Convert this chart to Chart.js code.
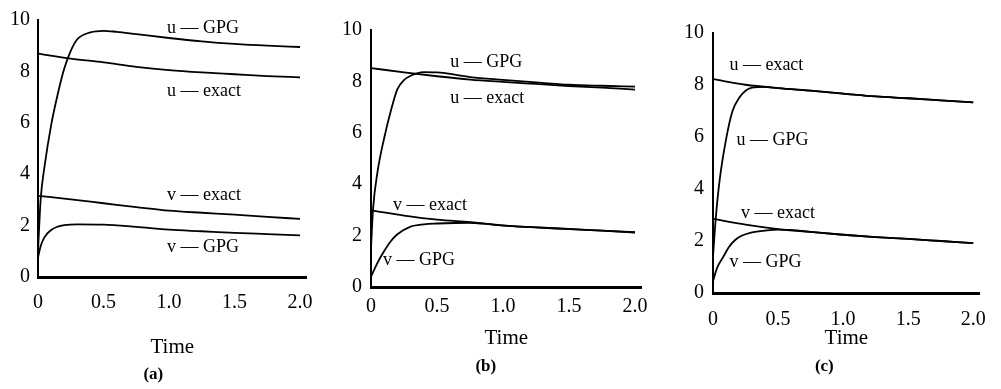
<!DOCTYPE html>
<html>
<head>
<meta charset="utf-8">
<script src="https://cdn.jsdelivr.net/npm/chart.js@4/dist/chart.umd.min.js"></script>
<style>
  body { margin: 0; background: #fff; }
  #wrap { position: relative; width: 1001px; height: 389px; overflow: hidden; }
  canvas { position: absolute; top: 0; }
</style>
</head>
<body>
<div id="wrap">
  <canvas id="panelA" width="330" height="389" style="left:0px"></canvas>
  <canvas id="panelB" width="330" height="389" style="left:330px"></canvas>
  <canvas id="panelC" width="341" height="389" style="left:660px"></canvas>
</div>
<script>
// axis ticks
const timeTicks = [0, 0.5, 1.0, 1.5, 2.0];
const valueTicks = [0, 2, 4, 6, 8, 10];

// panel (a)
const aUGpgT = [0, 0.02, 0.05, 0.1, 0.15, 0.2, 0.25, 0.3, 0.4, 0.5, 0.6, 0.75, 1.0, 1.25, 1.5, 1.75, 2.0];
const aUGpg = [1.0, 3.0, 4.3, 5.9, 7.1, 8.1, 8.8, 9.25, 9.52, 9.58, 9.54, 9.45, 9.3, 9.17, 9.07, 9.0, 8.95];
const aUExactT = [0, 0.25, 0.5, 0.75, 1.0, 1.25, 1.5, 1.75, 2.0];
const aUExact = [8.69, 8.5, 8.35, 8.18, 8.05, 7.96, 7.89, 7.82, 7.77];
const aVExactT = [0, 0.25, 0.5, 0.75, 1.0, 1.25, 1.5, 1.75, 2.0];
const aVExact = [3.16, 3.02, 2.87, 2.72, 2.58, 2.5, 2.43, 2.34, 2.26];
const aVGpgT = [0, 0.02, 0.05, 0.1, 0.15, 0.2, 0.3, 0.5, 0.75, 1.0, 1.25, 1.5, 1.75, 2.0];
const aVGpg = [0.75, 1.2, 1.55, 1.83, 1.96, 2.02, 2.05, 2.04, 1.95, 1.84, 1.78, 1.72, 1.67, 1.62];

// panel (b)
const bUGpgT = [0, 0.015, 0.05, 0.1, 0.15, 0.2, 0.25, 0.3, 0.4, 0.5, 0.75, 1.0, 1.25, 1.5, 1.75, 2.0];
const bUGpg = [1.5, 3.0, 4.5, 5.8, 6.85, 7.7, 8.05, 8.22, 8.36, 8.35, 8.17, 8.06, 7.96, 7.87, 7.83, 7.8];
const bUExactT = [0, 0.25, 0.5, 0.75, 1.0, 1.25, 1.5, 1.75, 2.0];
const bUExact = [8.52, 8.35, 8.2, 8.07, 7.98, 7.9, 7.82, 7.76, 7.68];
const bVExactT = [0, 0.25, 0.5, 0.75, 1.0, 1.25, 1.5, 1.75, 2.0];
const bVExact = [2.98, 2.78, 2.62, 2.52, 2.4, 2.32, 2.26, 2.19, 2.13];
const bVGpgT = [0, 0.05, 0.1, 0.15, 0.2, 0.3, 0.4, 0.5, 0.75, 1.0, 1.25, 1.5, 1.75, 2.0];
const bVGpg = [0.4, 0.95, 1.4, 1.78, 2.05, 2.35, 2.44, 2.47, 2.5, 2.39, 2.32, 2.25, 2.19, 2.12];

// panel (c)
const cUGpgT = [0, 0.02, 0.05, 0.1, 0.15, 0.2, 0.25, 0.3, 0.4, 0.5, 0.75, 1.0, 1.25, 1.5, 1.75, 2.0];
const cUGpg = [1.4, 2.8, 4.3, 5.9, 7.0, 7.5, 7.78, 7.9, 7.93, 7.88, 7.78, 7.67, 7.56, 7.49, 7.41, 7.33];
const cUExactT = [0, 0.25, 0.5, 0.75, 1.0, 1.25, 1.5, 1.75, 2.0];
const cUExact = [8.23, 8.01, 7.88, 7.78, 7.67, 7.56, 7.49, 7.41, 7.33];
const cVExactT = [0, 0.25, 0.5, 0.75, 1.0, 1.25, 1.5, 1.75, 2.0];
const cVExact = [2.85, 2.63, 2.46, 2.35, 2.24, 2.15, 2.08, 2.0, 1.92];
const cVGpgT = [0, 0.03, 0.08, 0.12, 0.17, 0.22, 0.3, 0.4, 0.5, 0.6, 0.75, 1.0, 1.25, 1.5, 1.75, 2.0];
const cVGpg = [0.45, 0.95, 1.4, 1.75, 2.04, 2.2, 2.33, 2.4, 2.44, 2.43, 2.35, 2.24, 2.15, 2.08, 2.0, 1.92];

const SERIF = "'Liberation Serif', 'DejaVu Serif', serif";
Chart.defaults.font.family = SERIF;
Chart.defaults.color = "#000";

const toPoints = (ts, vs) => ts.map((t, i) => ({ x: t, y: vs[i] }));

const line = (ts, vs) => ({
  data: toPoints(ts, vs),
  borderColor: "#000",
  borderWidth: 1.8,
  pointRadius: 0,
  cubicInterpolationMode: "monotone",
  fill: false,
});

// writes the curve names next to the lines, placed in data units
const curveLabels = {
  id: "curveLabels",
  afterDatasetsDraw(chart, args, opts) {
    const { ctx, scales } = chart;
    ctx.save();
    ctx.font = `18px ${SERIF}`;
    ctx.fillStyle = "#000";
    ctx.textBaseline = "middle";
    ctx.textAlign = "left";
    opts.items.forEach((it) => {
      ctx.fillText(it.text, scales.x.getPixelForValue(it.t), scales.y.getPixelForValue(it.v));
    });
    ctx.restore();
  },
};

const makePanel = (id, p) => {
  new Chart(document.getElementById(id), {
    type: "line",
    data: { datasets: p.series.map(([ts, vs]) => line(ts, vs)) },
    plugins: [curveLabels],
    options: {
      responsive: false,
      animation: false,
      layout: { padding: { top: p.top, right: p.right, bottom: p.bottom, left: 0 } },
      plugins: {
        legend: { display: false },
        tooltip: { enabled: false },
        title: {
          display: true,
          position: "bottom",
          text: p.tag,
          font: { size: 17, weight: "bold", family: SERIF },
          padding: { top: p.tagPad, bottom: 0 },
          color: "#000",
        },
        curveLabels: { items: p.labels },
      },
      scales: {
        x: {
          type: "linear",
          min: 0,
          max: 2.05,
          grid: { display: false, drawTicks: false },
          border: { display: true, color: "#000", width: 3 },
          afterBuildTicks: (s) => { s.ticks = timeTicks.map((v) => ({ value: v })); },
          ticks: {
            padding: p.tickPad,
            font: { size: 20, family: SERIF },
            color: "#000",
            callback: (v) => (v === 0 ? "0" : v.toFixed(1)),
          },
          title: {
            display: true,
            text: "Time",
            font: { size: 21, family: SERIF },
            padding: { top: p.timePad, bottom: 0 },
            color: "#000",
          },
        },
        y: {
          min: 0,
          max: 10,
          grid: { display: false, drawTicks: false },
          border: { display: true, color: "#000", width: 2 },
          afterBuildTicks: (s) => { s.ticks = valueTicks.map((v) => ({ value: v })); },
          afterFit: (s) => { s.width = p.left; },
          ticks: { padding: p.yPad, font: { size: 20, family: SERIF }, color: "#000" },
        },
      },
    },
  });
};

makePanel("panelA", {
  tag: "(a)",
  left: 38, top: 15, right: 23.4, bottom: 3.8,
  tickPad: 14, timePad: 5.4, tagPad: 5.2, yPad: 8,
  series: [[aUGpgT, aUGpg], [aUExactT, aUExact], [aVExactT, aVExact], [aVGpgT, aVGpg]],
  labels: [
    { text: "u — GPG", t: 0.985, v: 9.66 },
    { text: "u — exact", t: 0.985, v: 7.21 },
    { text: "v — exact", t: 0.985, v: 3.17 },
    { text: "v — GPG", t: 0.985, v: 1.15 },
  ],
});

makePanel("panelB", {
  tag: "(b)",
  left: 41, top: 30, right: 18.4, bottom: 11.8,
  tickPad: 8, timePad: -1.6, tagPad: 6.2, yPad: 9,
  series: [[bUGpgT, bUGpg], [bUExactT, bUExact], [bVExactT, bVExact], [bVGpgT, bVGpg]],
  labels: [
    { text: "u — GPG", t: 0.6, v: 8.75 },
    { text: "u — exact", t: 0.6, v: 7.35 },
    { text: "v — exact", t: 0.167, v: 3.19 },
    { text: "v — GPG", t: 0.09, v: 1.05 },
  ],
});

makePanel("panelC", {
  tag: "(c)",
  left: 53, top: 33, right: 12.3, bottom: 11.8,
  tickPad: 15, timePad: -21.6, tagPad: 6.2, yPad: 9,
  series: [[cUGpgT, cUGpg], [cUExactT, cUExact], [cVExactT, cVExact], [cVGpgT, cVGpg]],
  labels: [
    { text: "u — exact", t: 0.126, v: 8.77 },
    { text: "u — GPG", t: 0.18, v: 5.88 },
    { text: "v — exact", t: 0.216, v: 3.08 },
    { text: "v — GPG", t: 0.126, v: 1.19 },
  ],
});
</script>
</body>
</html>
